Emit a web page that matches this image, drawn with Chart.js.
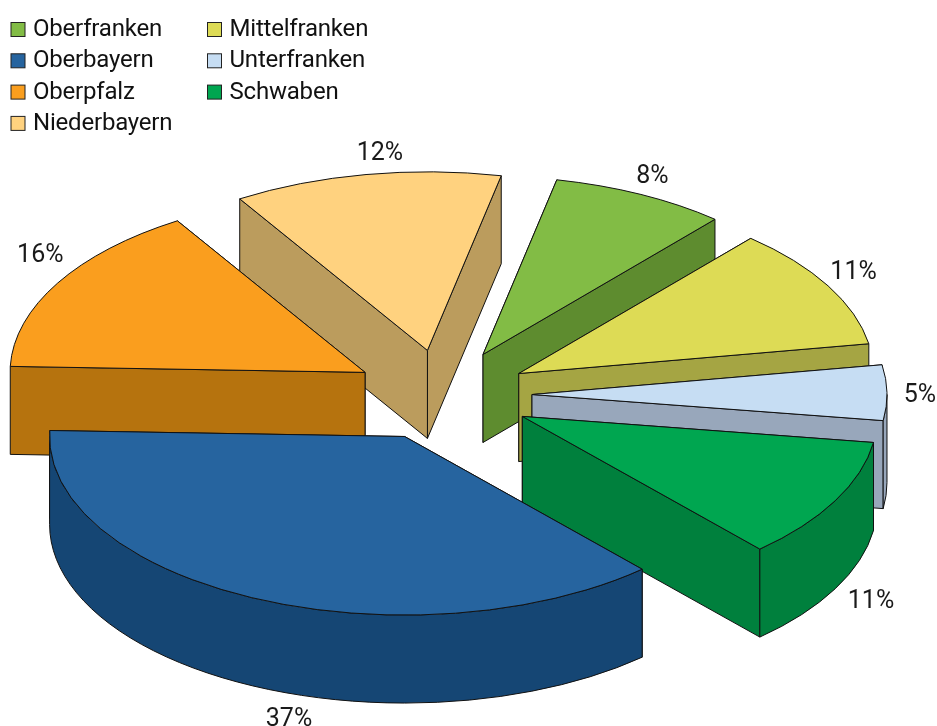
<!DOCTYPE html>
<html><head><meta charset="utf-8">
<style>html,body{margin:0;padding:0;background:#fff}canvas{display:block}</style>
<script src="https://cdn.jsdelivr.net/npm/chart.js@4"></script>
</head><body>
<canvas id="c" width="937" height="726"></canvas>
<script>
const categories = ['Oberfranken','Mittelfranken','Unterfranken','Schwaben','Oberbayern','Oberpfalz','Niederbayern'];
const shares = [8,11,5,11,37.2,15.6,12.2];
const topColors = ['#82BC45','#DDDB55','#C6DDF3','#00A650','#26649F','#FA9E1E','#FFD27F'];
const wallColors = ['#5E8C2F','#A5A543','#98A7BB','#00803D','#154674','#B6730E','#BB9C5D'];
const explode = [90,87,89,90,91,90,90];
const legendColumns = [[0,4,5,6],[1,2,3]];

const SQUASH = 0.503, DEPTH = 88, LABEL_R = 390;
const LEGEND_FONT = '24px Roboto', LABEL_FONT = '25px Roboto';
const labelNudge = [[-4,-2],[-5,-4],[-2,3],[5,5],[49,17],[13,-19],[20,-3]];

class Arc3D extends Chart.ArcElement {
  static id = 'arc3d';
  static defaults = Chart.ArcElement.defaults;
  apex() {
    const mid = (this.startAngle + this.endAngle) / 2, off = this.options.offset;
    return {x: this.x + Math.cos(mid) * off, y: this.y + Math.sin(mid) * off * SQUASH, mid};
  }
  draw(ctx) {
    const {startAngle: a0, endAngle: a1, outerRadius: R, options: o} = this;
    const {x: ax, y: ay} = this.apex();
    const ry = R * SQUASH;
    ctx.save();
    ctx.lineJoin = 'round';
    ctx.lineWidth = o.borderWidth;
    ctx.strokeStyle = o.borderColor;
    ctx.fillStyle = this.wallColor;
    const cut = a => {
      const px = ax + Math.cos(a) * R, py = ay + Math.sin(a) * ry;
      ctx.beginPath();
      ctx.moveTo(ax, ay); ctx.lineTo(px, py);
      ctx.lineTo(px, py + DEPTH); ctx.lineTo(ax, ay + DEPTH);
      ctx.closePath(); ctx.fill(); ctx.stroke();
    };
    // cut faces, nearest last
    const faces = [a0, a1].sort((p, q) => Math.sin(p) - Math.sin(q));
    faces.forEach(cut);
    // curved outer wall: the part of the rim that faces the viewer
    for (const turn of [-1, 0, 1]) {
      const s = Math.max(a0, turn * 2 * Math.PI), e = Math.min(a1, turn * 2 * Math.PI + Math.PI);
      if (e <= s) continue;
      ctx.beginPath();
      ctx.ellipse(ax, ay, R, ry, 0, s, e);
      ctx.ellipse(ax, ay + DEPTH, R, ry, 0, e, s, true);
      ctx.closePath(); ctx.fill(); ctx.stroke();
    }
    // top face
    ctx.fillStyle = o.backgroundColor;
    ctx.beginPath();
    ctx.moveTo(ax, ay);
    ctx.ellipse(ax, ay, R, ry, 0, a0, a1);
    ctx.closePath(); ctx.fill(); ctx.stroke();
    ctx.restore();
  }
}

class Pie3D extends Chart.PieController {
  static id = 'pie3d';
  static defaults = {...Chart.PieController.defaults, dataElementType: 'arc3d'};
  static overrides = Chart.PieController.overrides;
  draw() {
    const ctx = this.chart.ctx, ds = this.getDataset(), els = [...this.getMeta().data];
    els.forEach((el, i) => { el.wallColor = ds.wallColors[i]; });
    els.sort((p, q) => p.apex().y - q.apex().y);
    els.forEach(el => el.draw(ctx));
  }
}
Chart.register(Arc3D, Pie3D);

const percentLabels = {
  id: 'percentLabels',
  afterDatasetsDraw(chart) {
    const ctx = chart.ctx, data = chart.data.datasets[0].data;
    ctx.save();
    ctx.font = LABEL_FONT; ctx.fillStyle = '#1a1a1a';
    ctx.textAlign = 'center'; ctx.textBaseline = 'middle';
    chart.getDatasetMeta(0).data.forEach((el, i) => {
      const {x, y, mid} = el.apex();
      const front = Math.sin(mid) > 0 ? DEPTH : 0;
      ctx.fillText(Math.round(data[i]) + '%',
        x + Math.cos(mid) * LABEL_R + labelNudge[i][0],
        y + Math.sin(mid) * LABEL_R * SQUASH + front + labelNudge[i][1]);
    });
    ctx.restore();
  }
};
const sideLegend = {
  id: 'sideLegend',
  afterDraw(chart) {
    const ctx = chart.ctx, ds = chart.data.datasets[0];
    ctx.save();
    ctx.font = LEGEND_FONT; ctx.textBaseline = 'middle'; ctx.textAlign = 'left';
    ctx.letterSpacing = '-0.2px';
    legendColumns.forEach((col, c) => col.forEach((idx, r) => {
      const bx = 11 + c * 196.5, by = 22.5 + r * 31.3;
      ctx.fillStyle = ds.backgroundColor[idx];
      ctx.strokeStyle = '#222'; ctx.lineWidth = 1;
      ctx.fillRect(bx, by, 14, 14); ctx.strokeRect(bx, by, 14, 14);
      ctx.fillStyle = '#111';
      ctx.fillText(chart.data.labels[idx], bx + 22, by + 7.5);
    }));
    ctx.restore();
  }
};

new Chart(document.getElementById('c'), {
  type: 'pie3d',
  data: {labels: categories, datasets: [{
    data: shares,
    backgroundColor: topColors,
    wallColors: wallColors,
    offset: explode,
    borderColor: '#111',
    borderWidth: 1,
    clip: false
  }]},
  options: {
    responsive: false,
    animation: false,
    rotation: 12,
    radius: 355,
    layout: {padding: {left: 0, right: 51, top: 64, bottom: 0}},
    events: [],
    plugins: {legend: {display: false}, tooltip: {enabled: false}}
  },
  plugins: [percentLabels, sideLegend]
});
</script>
</body></html>
